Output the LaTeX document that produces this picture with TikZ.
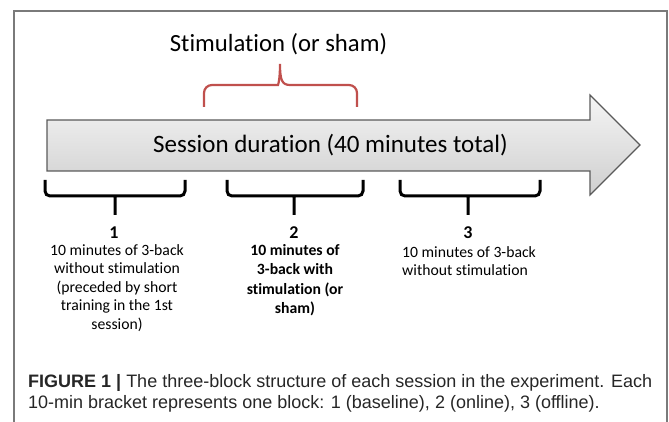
\documentclass[tikz,border=0pt]{standalone}
\usepackage{fontspec}
\setmainfont{Carlito}[Ligatures=NoCommon]
\newfontfamily\capfont{Liberation Sans}
\usetikzlibrary{positioning}
\definecolor{stimred}{HTML}{C0504D}
\definecolor{framegray}{HTML}{7A7A7A}
\definecolor{arrowline}{HTML}{5A5A5A}

\begin{document}
\begin{tikzpicture}[x=1pt,y=-1pt,
    bracket/.style={line width=3pt, rounded corners=5pt},
    blocknum/.style={font=\fontsize{18}{18}\selectfont\bfseries, inner sep=0pt},
    blocktxt/.style={font=\fontsize{15.7}{18.5}\selectfont, align=center, inner sep=0pt, anchor=north}]
        \useasboundingbox (0,0) rectangle (669,422);
        \draw[framegray, line width=1.2pt](14,422)--(14,11)--(667,11)--(667,422); %枠（下は切れている）

        \node[anchor=base, inner sep=0pt, font=\fontsize{24.7}{24.7}\selectfont](stim) at (278.5,52){Stimulation (or sham)};
        \draw[stimred, line width=2.2pt](204,107)[rounded corners=8pt]--(204,85)--(270,85)[sharp corners] .. controls (278,85) and (280,80) .. (280,64) .. controls (280,80) and (282,85) .. (290,85)[rounded corners=8pt]--(357,85)--(357,107); %赤い括弧

        \draw[arrowline, line width=1.2pt, top color=gray!8, bottom color=gray!38](47,120)--(590,120)--(590,95)--(640,145)--(590,195)--(590,171)--(47,171)--cycle; %矢印
        \node[anchor=base, inner sep=0pt, font=\fontsize{25}{25}\selectfont](sess) at (330.5,153){Session duration (40 minutes total)};

        \draw[bracket](45,180)--(45,196)--(185,196)--(185,180) (115,196)--(115,215); %ブロック1
        \draw[bracket](227,180)--(227,196)--(363,196)--(363,180) (294,196)--(294,215); %ブロック2
        \draw[bracket](400,180)--(400,196)--(540,196)--(540,180) (468,196)--(468,215); %ブロック3

        \node[blocknum](n1) at (114,233){1};
        \node[blocknum](n2) at (294,233){2};
        \node[blocknum](n3) at (468,233){3};
        \node[blocktxt](t1) at (117,244){10 minutes of 3-back\\without stimulation\\(preceded by short\\training in the 1st\\session)};
        \node[blocktxt, font=\fontsize{15.7}{19.5}\selectfont\bfseries](t2) at (295,244){10 minutes of\\3-back with\\stimulation (or\\sham)};
        \node[blocktxt, anchor=north west, align=left](t3) at (402,246){10 minutes of 3-back\\without stimulation};

        \node[anchor=north west, inner sep=0pt, align=left, text=black!85, font=\capfont\fontsize{18}{21}\selectfont](cap) at (28,374){\textbf{FIGURE 1 |} The three-block structure of each session in the experiment. Each\\10-min bracket represents one block: 1 (baseline), 2 (online), 3 (offline).}; %キャプション
    \end{tikzpicture}
\end{document}
